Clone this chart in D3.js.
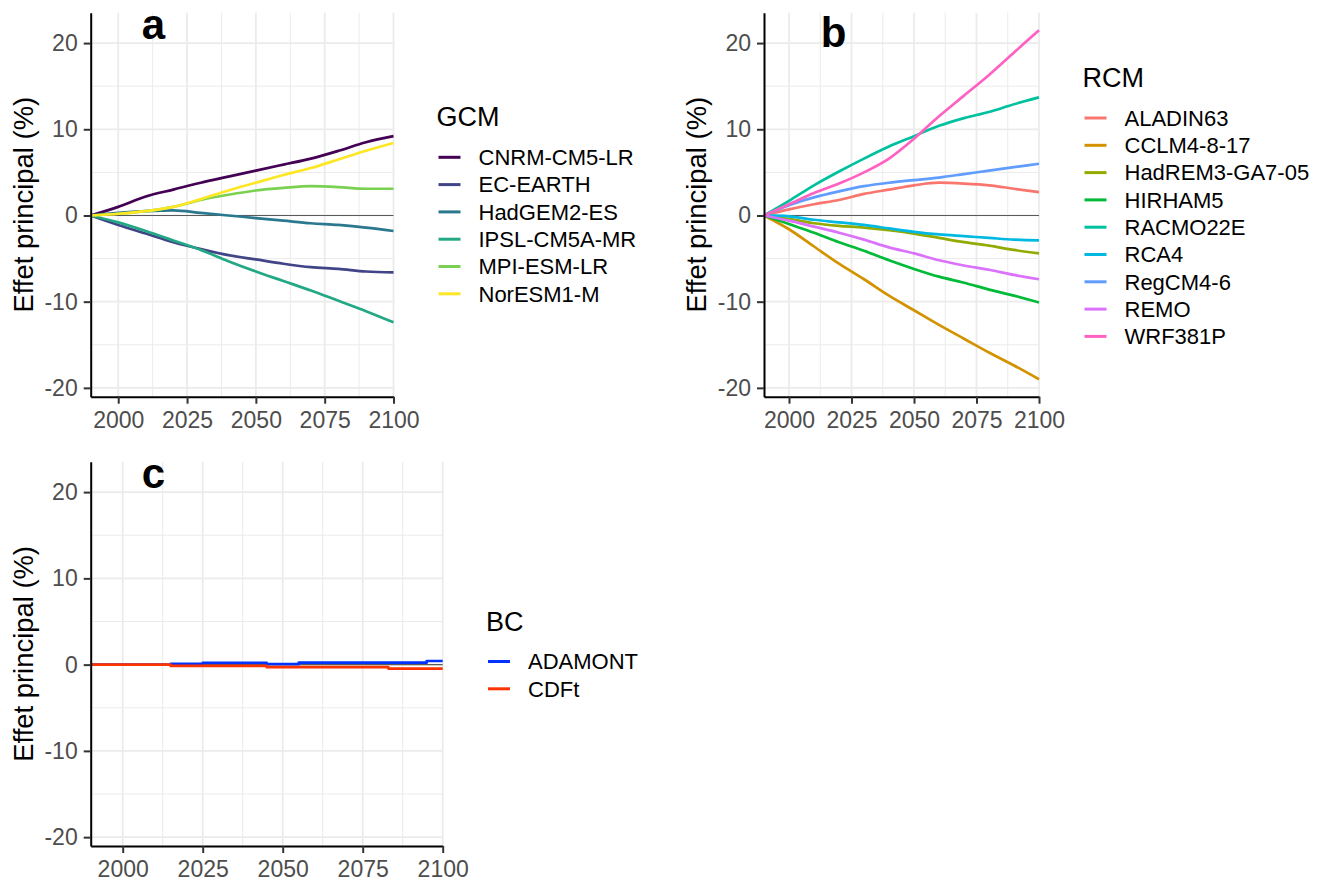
<!DOCTYPE html>
<html>
<head>
<meta charset="utf-8">
<script src="https://cdn.jsdelivr.net/npm/d3@7"></script>
<style>
  html, body { margin: 0; padding: 0; background: #fff; }
  svg { display: block; font-family: "Liberation Sans", Arial, sans-serif; }
</style>
</head>
<body>
<svg id="chart" width="1321" height="882"></svg>
<script>
// ---------------- DATA ----------------
const yearsAB = [1990, 2000, 2010, 2020, 2030, 2040, 2050, 2060, 2070, 2080, 2090, 2100];

// Panel a : GCM main effects (%)
const gcmNames = ["CNRM-CM5-LR", "EC-EARTH", "HadGEM2-ES", "IPSL-CM5A-MR", "MPI-ESM-LR", "NorESM1-M"];
const cnrmCM5LR  = [0, 1.0, 2.2, 3.0, 3.8, 4.5, 5.2, 5.9, 6.6, 7.5, 8.5, 9.2];
const ecEarth    = [0, -1.1, -2.1, -3.1, -3.9, -4.6, -5.1, -5.6, -6.0, -6.2, -6.5, -6.6];
const hadGEM2ES  = [0, 0.3, 0.5, 0.6, 0.3, 0.0, -0.3, -0.6, -0.9, -1.1, -1.4, -1.8];
const ipslCM5AMR = [0, -0.8, -1.8, -2.9, -4.0, -5.3, -6.5, -7.6, -8.7, -9.9, -11.1, -12.4];
const mpiESMLR   = [0, 0.2, 0.5, 1.0, 1.8, 2.4, 2.9, 3.2, 3.4, 3.3, 3.1, 3.1];
const norESM1M   = [0, 0.2, 0.5, 1.0, 1.9, 2.9, 3.8, 4.7, 5.5, 6.5, 7.5, 8.4];
const gcmValues = [cnrmCM5LR, ecEarth, hadGEM2ES, ipslCM5AMR, mpiESMLR, norESM1M];

// Panel b : RCM main effects (%)
const rcmNames = ["ALADIN63", "CCLM4-8-17", "HadREM3-GA7-05", "HIRHAM5", "RACMO22E", "RCA4", "RegCM4-6", "REMO", "WRF381P"];
const aladin63   = [0, 0.7, 1.3, 1.8, 2.5, 3.0, 3.5, 3.8, 3.7, 3.5, 3.1, 2.7];
const cclm4817   = [0, -1.6, -3.6, -5.6, -7.4, -9.3, -11.0, -12.7, -14.3, -15.9, -17.4, -19.0];
const hadREM3    = [0, -0.4, -0.9, -1.2, -1.4, -1.7, -2.1, -2.6, -3.1, -3.5, -4.0, -4.4];
const hirham5    = [0, -1.0, -2.0, -3.1, -4.1, -5.2, -6.2, -7.1, -7.8, -8.6, -9.3, -10.1];
const racmo22E   = [0, 1.7, 3.5, 5.1, 6.6, 8.0, 9.2, 10.4, 11.3, 12.0, 12.9, 13.7];
const rca4       = [0, -0.1, -0.5, -0.8, -1.1, -1.5, -1.9, -2.2, -2.4, -2.6, -2.8, -2.9];
const regCM46    = [0, 1.2, 2.1, 2.8, 3.4, 3.8, 4.1, 4.4, 4.8, 5.2, 5.6, 6.0];
const remo       = [0, -0.6, -1.3, -2.0, -2.8, -3.7, -4.4, -5.2, -5.8, -6.3, -6.9, -7.4];
const wrf381P    = [0, 1.3, 2.6, 3.7, 5.0, 6.6, 8.9, 11.5, 13.9, 16.3, 18.9, 21.5];
const rcmValues = [aladin63, cclm4817, hadREM3, hirham5, racmo22E, rca4, regCM46, remo, wrf381P];

// Panel c : bias-correction main effects (%), step changes
const yearsC = [1990, 2015, 2025, 2045, 2055, 2083, 2095, 2100];
const bcNames = ["ADAMONT", "CDFt"];
const adamont = [0, 0.08, 0.2, 0.05, 0.23, 0.23, 0.42, 0.42];
const cdft    = [0, -0.15, -0.15, -0.3, -0.3, -0.46, -0.46, -0.46];
const bcValues = [adamont, cdft];

// Axis ticks
const xTicks = [2000, 2025, 2050, 2075, 2100];
const xMinorTicks = [2012.5, 2037.5, 2062.5, 2087.5];
const yTicks = [-20, -10, 0, 10, 20];
const yMinorTicks = [-15, -5, 5, 15];
const xDomain = [1990, 2100];

// Colours
const gcmColors = ["#440154", "#414487", "#2A788E", "#22A884", "#7AD151", "#FDE725"];
const rcmColors = ["#F8766D", "#D39200", "#93AA00", "#00BA38", "#00C19F", "#00B9E3", "#619CFF", "#DB72FB", "#FF61C3"];
const bcColors  = ["#0033FF", "#FF3300"];

// ---------------- CHART ----------------
const svg = d3.select("#chart");

// shared y domain: data extent expanded by 5%
const allVals = [].concat(...gcmValues, ...rcmValues, ...bcValues);
const [vmin, vmax] = d3.extent(allVals);
const pad = (vmax - vmin) * 0.05;
const yDomain = [vmin - pad, vmax + pad];

function drawPanel(cfg) {
  const g = svg.append("g");
  const x = d3.scaleLinear().domain(xDomain).range([cfg.left, cfg.right]);
  const y = d3.scaleLinear().domain(yDomain).range([cfg.bottom, cfg.top]);

  // grid
  g.selectAll(".ygmin").data(yMinorTicks).enter().append("line")
    .attr("x1", cfg.left).attr("x2", cfg.right)
    .attr("y1", d => y(d)).attr("y2", d => y(d))
    .attr("stroke", "#EBEBEB").attr("stroke-width", 1);
  g.selectAll(".xgmin").data(xMinorTicks).enter().append("line")
    .attr("y1", cfg.top).attr("y2", cfg.bottom)
    .attr("x1", d => x(d)).attr("x2", d => x(d))
    .attr("stroke", "#EBEBEB").attr("stroke-width", 1);
  g.selectAll(".ygmaj").data(yTicks).enter().append("line")
    .attr("x1", cfg.left).attr("x2", cfg.right)
    .attr("y1", d => y(d)).attr("y2", d => y(d))
    .attr("stroke", "#EBEBEB").attr("stroke-width", 1.8);
  g.selectAll(".xgmaj").data(xTicks).enter().append("line")
    .attr("y1", cfg.top).attr("y2", cfg.bottom)
    .attr("x1", d => x(d)).attr("x2", d => x(d))
    .attr("stroke", "#EBEBEB").attr("stroke-width", 1.8);

  // zero line
  g.append("line")
    .attr("x1", cfg.left).attr("x2", cfg.right)
    .attr("y1", y(0)).attr("y2", y(0))
    .attr("stroke", "#5a5a5a").attr("stroke-width", 1.1);

  // series
  cfg.values.forEach((vals, i) => {
    const pts = cfg.years.map((yr, k) => [yr, vals[k]]);
    const line = d3.line().x(d => x(d[0])).y(d => y(d[1])).curve(cfg.curve);
    g.append("path").datum(pts)
      .attr("d", line)
      .attr("fill", "none")
      .attr("stroke", cfg.colors[i])
      .attr("stroke-width", 2.7)
      .attr("stroke-linejoin", "round");
  });

  // axes
  const yAxis = d3.axisLeft(y).tickValues(yTicks).tickSize(7).tickSizeOuter(0).tickPadding(6)
    .tickFormat(d => String(d));
  const ya = g.append("g").attr("transform", `translate(${cfg.left},0)`).call(yAxis);
  const xAxis = d3.axisBottom(x).tickValues(xTicks).tickSize(7).tickSizeOuter(0).tickPadding(7)
    .tickFormat(d => String(d));
  const xa = g.append("g").attr("transform", `translate(0,${cfg.bottom})`).call(xAxis);
  [ya, xa].forEach(a => {
    a.select(".domain").attr("stroke", "#000").attr("stroke-width", 2);
    a.selectAll(".tick line").attr("stroke", "#333").attr("stroke-width", 2);
    a.selectAll(".tick text").attr("fill", "#4D4D4D").attr("font-size", 23)
      .attr("font-family", "'Liberation Sans', Arial, sans-serif");
  });
  xa.selectAll(".tick text").attr("dy", "0.76em");

  // y title
  g.append("text")
    .attr("transform", `translate(${cfg.titleX},${(cfg.top + cfg.bottom) / 2}) rotate(-90)`)
    .attr("text-anchor", "middle")
    .attr("font-size", 27.4)
    .attr("fill", "#000")
    .text("Effet principal (%)");

  // panel label
  g.append("text")
    .attr("x", cfg.labelX).attr("y", cfg.top + cfg.labelDy)
    .attr("text-anchor", "middle")
    .attr("font-size", 42).attr("font-weight", "bold")
    .attr("fill", "#000")
    .text(cfg.label);

  // legend
  const lg = g.append("g");
  lg.append("text")
    .attr("x", cfg.legX - 2).attr("y", cfg.legTitleY).attr("dy", "0.35em")
    .attr("font-size", 27).attr("fill", "#000").text(cfg.legTitle);
  cfg.names.forEach((nm, i) => {
    const yy = cfg.legY0 + i * 27.3;
    lg.append("line")
      .attr("x1", cfg.legX).attr("x2", cfg.legX + 22)
      .attr("y1", yy).attr("y2", yy)
      .attr("stroke", cfg.colors[i]).attr("stroke-width", 3);
    lg.append("text")
      .attr("x", cfg.legX + 40).attr("y", yy).attr("dy", "0.35em")
      .attr("font-size", 22).attr("fill", "#000").text(nm);
  });
}

drawPanel({
  left: 90.7, right: 393.5, top: 12.7, bottom: 396.7,
  years: yearsAB, values: gcmValues, names: gcmNames, colors: gcmColors,
  curve: d3.curveMonotoneX, label: "a", labelX: 153.5, labelDy: 25.8,
  titleX: 33, legTitle: "GCM", legX: 438.5, legTitleY: 117, legY0: 157.3
});

drawPanel({
  left: 764, right: 1039, top: 12.7, bottom: 396.7,
  years: yearsAB, values: rcmValues, names: rcmNames, colors: rcmColors,
  curve: d3.curveMonotoneX, label: "b", labelX: 833.5, labelDy: 34,
  titleX: 706, legTitle: "RCM", legX: 1084.5, legTitleY: 78, legY0: 118
});

drawPanel({
  left: 90.7, right: 442.7, top: 461.7, bottom: 846,
  years: yearsC, values: bcValues, names: bcNames, colors: bcColors,
  curve: d3.curveStepAfter, label: "c", labelX: 153.5, labelDy: 25.8,
  titleX: 33, legTitle: "BC", legX: 488, legTitleY: 621.7, legY0: 661.5
});
</script>
</body>
</html>
